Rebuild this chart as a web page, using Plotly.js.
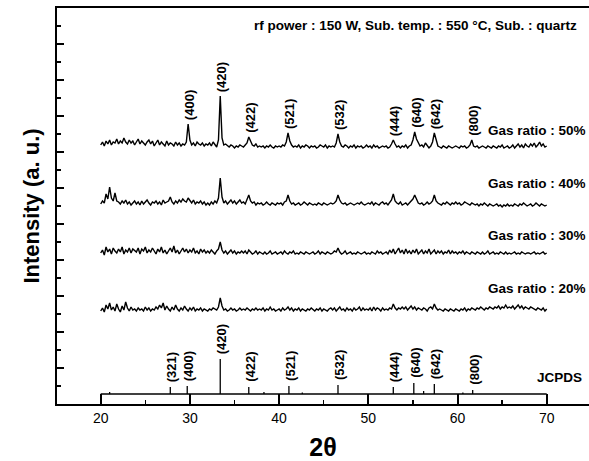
<!DOCTYPE html>
<html><head><meta charset="utf-8">
<script src="https://cdn.plot.ly/plotly-3.0.1.min.js"></script>
<style>html,body{margin:0;padding:0;background:#fff}#chart{width:589px;height:461px}</style>
</head><body><div id="chart"></div>
<script>
// 2-theta sampling grid (degrees)
const twoTheta = [
20,20.2,20.4,20.6,20.8,21,21.2,21.4,21.6,21.8,
22,22.2,22.4,22.6,22.8,23,23.2,23.4,23.6,23.8,
24,24.2,24.4,24.6,24.8,25,25.2,25.4,25.6,25.8,
26,26.2,26.4,26.6,26.8,27,27.2,27.4,27.6,27.8,
28,28.2,28.4,28.6,28.8,29,29.2,29.4,29.6,29.8,
30,30.2,30.4,30.6,30.8,31,31.2,31.4,31.6,31.8,
32,32.2,32.4,32.6,32.8,33,33.2,33.4,33.6,33.8,
34,34.2,34.4,34.6,34.8,35,35.2,35.4,35.6,35.8,
36,36.2,36.4,36.6,36.8,37,37.2,37.4,37.6,37.8,
38,38.2,38.4,38.6,38.8,39,39.2,39.4,39.6,39.8,
40,40.2,40.4,40.6,40.8,41,41.2,41.4,41.6,41.8,
42,42.2,42.4,42.6,42.8,43,43.2,43.4,43.6,43.8,
44,44.2,44.4,44.6,44.8,45,45.2,45.4,45.6,45.8,
46,46.2,46.4,46.6,46.8,47,47.2,47.4,47.6,47.8,
48,48.2,48.4,48.6,48.8,49,49.2,49.4,49.6,49.8,
50,50.2,50.4,50.6,50.8,51,51.2,51.4,51.6,51.8,
52,52.2,52.4,52.6,52.8,53,53.2,53.4,53.6,53.8,
54,54.2,54.4,54.6,54.8,55,55.2,55.4,55.6,55.8,
56,56.2,56.4,56.6,56.8,57,57.2,57.4,57.6,57.8,
58,58.2,58.4,58.6,58.8,59,59.2,59.4,59.6,59.8,
60,60.2,60.4,60.6,60.8,61,61.2,61.4,61.6,61.8,
62,62.2,62.4,62.6,62.8,63,63.2,63.4,63.6,63.8,
64,64.2,64.4,64.6,64.8,65,65.2,65.4,65.6,65.8,
66,66.2,66.4,66.6,66.8,67,67.2,67.4,67.6,67.8,
68,68.2,68.4,68.6,68.8,69,69.2,69.4,69.6,69.8,
70];

// Stacked intensities (a.u., offset already included as plotted)
const gas50 = [
259,262,258,263,260,264,259,262,261,265,
260,263,261,266,262,260,264,261,263,259,
262,265,260,263,261,259,262,264,260,263,
258,261,264,259,262,260,258,263,259,261,
260,258,262,259,261,258,260,259,262,280,
264,259,261,258,262,260,259,261,258,260,
259,261,258,262,260,257,264,308,266,259,
260,258,257,259,258,256,258,257,259,258,
257,259,261,267,262,259,258,260,257,258,
257,258,256,258,257,259,257,256,258,257,
258,257,259,258,262,271,263,259,257,258,
257,259,256,258,257,259,258,256,258,257,
258,256,257,259,258,257,259,256,258,257,
258,257,261,270,262,258,257,259,258,256,
258,257,259,256,258,257,258,256,257,259,
257,258,256,259,257,258,256,257,258,257,
258,256,257,260,264,260,257,258,256,258,
257,259,256,258,259,264,272,265,261,258,
259,257,261,258,256,258,262,271,263,258,
257,256,258,257,256,258,257,256,257,258,
257,256,258,257,258,256,257,259,264,258,
257,258,256,257,258,257,256,258,257,256,
258,257,256,258,257,259,256,257,258,256,
257,259,256,258,260,257,259,256,260,258,
257,260,258,261,257,259,262,258,260,257,
258];

const gas40 = [
200,203,201,210,205,217,206,203,211,203,
202,200,203,201,204,200,202,199,201,203,
200,202,199,203,200,202,204,201,199,202,
201,203,200,202,199,204,201,202,203,207,
202,200,203,201,204,202,205,203,202,206,
203,201,204,200,202,201,203,200,202,199,
201,199,202,200,203,201,206,226,207,201,
203,200,202,204,201,203,200,202,204,201,
202,200,204,209,203,201,202,199,201,200,
201,199,200,202,200,199,201,200,199,201,
200,201,199,202,203,209,203,200,201,199,
200,201,199,200,202,200,199,201,200,199,
200,199,201,200,199,201,200,199,200,201,
200,201,203,209,204,201,200,201,199,200,
201,200,199,200,201,200,202,200,199,200,
201,200,202,199,201,200,199,201,202,200,
201,199,202,204,210,203,201,200,202,199,
200,201,199,201,203,205,209,204,201,200,
201,199,200,202,200,201,203,209,203,201,
200,199,201,200,202,200,199,201,200,202,
200,201,199,200,202,201,200,199,201,200,
199,200,198,200,199,201,199,198,200,199,
198,199,200,198,199,197,199,198,200,198,
199,198,200,199,198,200,199,201,199,198,
199,200,198,199,201,199,198,200,199,198,
199];

const gas30 = [
151,154,149,157,152,155,150,156,153,151,
155,152,157,150,154,152,156,151,155,153,
152,156,150,155,153,157,151,154,152,156,
153,150,155,152,157,151,154,150,153,156,
152,158,151,154,150,153,156,152,155,151,
154,152,156,151,153,150,155,152,154,151,
153,151,154,152,150,153,155,162,154,151,
153,150,152,154,151,153,150,152,151,153,
151,153,150,154,152,150,151,153,150,152,
151,150,152,150,151,153,150,151,152,150,
151,152,150,153,151,150,152,151,153,150,
151,150,152,151,150,152,151,150,151,152,
150,151,153,150,152,151,150,152,151,150,
151,153,152,156,152,150,151,153,150,151,
152,150,151,150,152,151,150,151,152,150,
151,150,152,151,150,153,151,152,150,151,
152,150,154,151,155,150,153,156,151,154,
150,155,151,153,150,154,151,155,150,152,
154,150,153,151,155,150,152,154,150,153,
151,153,150,152,151,154,150,153,151,152,
150,152,151,153,150,152,151,150,152,151,
150,152,151,150,152,150,151,153,150,151,
152,150,151,150,152,151,150,152,150,151,
150,151,152,150,151,150,152,151,150,151,
151,150,151,152,150,151,150,151,152,150,
151];

const gas20 = [
93,96,92,99,95,101,94,97,93,100,
95,92,98,94,102,96,93,97,94,95,
93,96,94,95,93,97,94,96,93,95,
94,97,95,99,96,101,94,98,95,93,
97,94,99,95,93,96,94,98,95,93,
96,94,97,93,95,94,96,93,95,94,
93,95,94,96,95,94,97,106,98,94,
95,93,94,96,94,95,93,94,96,94,
95,94,96,94,93,95,94,96,94,95,
94,96,93,95,94,97,94,95,93,94,
95,93,96,94,95,97,94,96,93,95,
94,96,93,95,94,93,95,94,96,94,
93,95,94,96,93,95,94,93,95,96,
94,96,93,95,97,94,95,93,96,94,
95,93,96,94,95,97,93,96,94,95,
94,96,93,97,94,96,95,93,96,94,
95,94,96,95,100,96,94,96,95,97,
95,97,94,96,98,95,97,94,96,95,
94,96,95,93,96,97,95,100,96,94,
95,94,93,95,94,93,95,94,93,95,
94,93,95,94,96,93,95,94,96,95,
94,96,95,97,95,94,96,95,97,96,
95,97,96,98,95,97,96,99,96,97,
96,98,95,97,99,96,98,95,97,96,
95,97,96,95,94,96,95,94,96,93,
95];

// Peak labels on the 50% pattern
const peak50Pos = [29.8, 33.4, 36.6, 41.0, 46.6, 52.8, 55.2, 57.4, 61.6];
const peak50Hkl = ['(400)','(420)','(422)','(521)','(532)','(444)','(640)','(642)','(800)'];

// JCPDS reference stick pattern
const jcpdsBase = 10;
const jcpdsRange = [20, 70];
const jcpdsPos = [21.0, 27.8, 29.7, 33.4, 36.6, 38.3, 41.1, 42.6, 46.6, 52.8, 55.1, 56.2, 57.4, 60.6, 61.7];
const jcpdsInt = [2, 7, 8, 35, 7, 2, 8, 1.5, 9, 7, 11, 3, 10, 1.5, 4];
const jcpdsHkl = ['', '(321)', '(400)', '(420)', '(422)', '', '(521)', '', '(532)', '(444)', '(640)', '', '(642)', '', '(800)'];

const seriesNames = ['Gas ratio : 50%', 'Gas ratio : 40%', 'Gas ratio : 30%', 'Gas ratio : 20%'];
const seriesData = [gas50, gas40, gas30, gas20];
const seriesLabelY = [274, 221, 169, 116];
const jcpdsLabelY = 27;

const FONT = 'Liberation Sans, Arial, Helvetica, sans-serif';
const lineStyle = {color: '#000', width: 1.4};

const traces = seriesData.map((d, k) => ({
  type: 'scatter', mode: 'lines', x: twoTheta, y: d, name: seriesNames[k],
  line: lineStyle, hoverinfo: 'skip', showlegend: false
}));

// JCPDS sticks
const jx = [jcpdsRange[0], jcpdsRange[1]];
const jy = [jcpdsBase, jcpdsBase];
jcpdsPos.forEach((p, i) => { jx.push(null, p, p); jy.push(null, jcpdsBase, jcpdsBase + jcpdsInt[i]); });
traces.push({type: 'scatter', mode: 'lines', x: jx, y: jy, name: 'JCPDS',
  line: {color: '#000', width: 1.3}, hoverinfo: 'skip', showlegend: false, connectgaps: false});

function peakTop(arr, pos) {
  let m = -Infinity;
  twoTheta.forEach((t, i) => { if (Math.abs(t - pos) <= 0.25) m = Math.max(m, arr[i]); });
  return m;
}

const labelFont = {family: FONT, size: 13, color: '#000', weight: 'bold'};
const sideFont = {family: FONT, size: 13.5, color: '#000', weight: 'bold'};
const annotations = [];
peak50Pos.forEach((p, i) => annotations.push({
  x: p, y: peakTop(gas50, p), xref: 'x', yref: 'y', text: peak50Hkl[i], showarrow: false,
  textangle: -90, xanchor: 'center', yanchor: 'bottom', yshift: 2, xshift: 1, font: labelFont
}));
jcpdsPos.forEach((p, i) => { if (jcpdsHkl[i]) annotations.push({
  x: p, y: jcpdsBase + jcpdsInt[i], xref: 'x', yref: 'y', text: jcpdsHkl[i], showarrow: false,
  textangle: -90, xanchor: 'center', yanchor: 'bottom', yshift: 3, xshift: 1, font: labelFont
}); });
seriesNames.forEach((n, k) => annotations.push({
  x: 1, xref: 'paper', y: seriesLabelY[k], yref: 'y', text: n, showarrow: false,
  xanchor: 'right', yanchor: 'middle', xshift: -1, font: sideFont
}));
annotations.push({x: 1, xref: 'paper', y: jcpdsLabelY, yref: 'y', text: 'JCPDS', showarrow: false,
  xanchor: 'right', yanchor: 'middle', xshift: -5, font: sideFont});
annotations.push({x: 1, xref: 'paper', y: 379, yref: 'y',
  text: 'rf power : 150 W, Sub. temp. : 550 °C, Sub. : quartz', showarrow: false,
  xanchor: 'right', yanchor: 'middle', xshift: -10, font: {family: FONT, size: 13.5, color: '#000', weight: 'bold'}});

const layout = {
  width: 589, height: 461,
  margin: {l: 57, r: 0, t: 8, b: 57},
  paper_bgcolor: '#fff', plot_bgcolor: '#fff',
  font: {family: FONT, color: '#000'},
  showlegend: false,
  xaxis: {
    range: [15.1, 74.74], showgrid: false, zeroline: false,
    showline: true, linewidth: 2, linecolor: '#000', mirror: true,
    ticks: 'inside', ticklen: 10, tickwidth: 2, tickcolor: '#000',
    tick0: 0, dtick: 10, tickfont: {family: FONT, size: 14, color: '#000'},
    minor: {dtick: 5, tick0: 0, ticks: 'inside', ticklen: 4, tickwidth: 1.5, tickcolor: '#000', showgrid: false},
    title: {text: '2θ', font: {family: FONT, size: 25, color: '#000', weight: 'bold'}, standoff: 17}
  },
  yaxis: {
    range: [0, 396], showgrid: false, zeroline: false,
    showline: true, linewidth: 2, linecolor: '#000', mirror: false,
    ticks: 'inside', ticklen: 7, tickwidth: 2, tickcolor: '#000',
    tick0: 0, dtick: 36, showticklabels: false,
    minor: {dtick: 18, tick0: 0, ticks: 'inside', ticklen: 4, tickwidth: 1.5, tickcolor: '#000', showgrid: false},
    title: {text: 'Intensity (a. u.)', font: {family: FONT, size: 22, color: '#000', weight: 'bold'}, standoff: 9}
  },
  annotations: annotations
};

Plotly.newPlot('chart', traces, layout, {displayModeBar: false, staticPlot: true});
</script>
</body></html>
